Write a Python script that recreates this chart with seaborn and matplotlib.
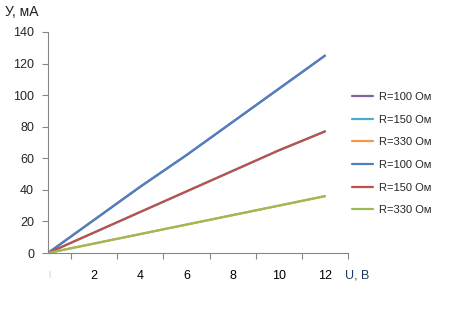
import matplotlib
matplotlib.use("Agg")
import matplotlib.pyplot as plt
import seaborn as sns
import pandas as pd

U = [0, 2, 4, 6, 8, 10, 12]
I_100 = [0, 21, 42, 62, 83, 104, 125]
I_150 = [0, 13, 26, 39, 52, 65, 77]
I_330 = [0, 6, 12, 18, 24, 30, 36]
labels = ["R=100 Ом", "R=150 Ом", "R=330 Ом", "R=100 Ом", "R=150 Ом", "R=330 Ом"]
colors = ["#8064A2", "#4BACC6", "#F79646", "#4F81BD", "#C0504D", "#9BBB59"]
series = [I_100, I_150, I_330, I_100, I_150, I_330]
x_labels = ["2", "4", "6", "8", "10", "12"]
y_ticks = [0, 20, 40, 60, 80, 100, 120, 140]

sns.set_style("white")
plt.rcParams["font.family"] = ["Liberation Sans", "DejaVu Sans"]

fig = plt.figure(figsize=(4.54, 3.12), dpi=100)
ax = fig.add_axes([48/454, 1-253/312, 300/454, 221/312])

for ys, lab, col in zip(series, labels, colors):
    df = pd.DataFrame({"U": U, "I": ys})
    sns.lineplot(data=df, x="U", y="I", ax=ax, color=col, linewidth=2.5, label=lab, legend=False)

ax.set_xlim(0, 13)
ax.set_ylim(0, 140)
ax.set_xticks([2, 4, 6, 8, 10, 12])
ax.set_xticklabels(x_labels)
ax.set_xticks([1, 3, 5, 7, 9, 11, 13], minor=True)
ax.set_yticks(y_ticks)
ax.tick_params(axis="x", which="major", length=0, pad=12, labelsize=9, colors="#000000")
ax.tick_params(axis="x", which="minor", length=4, width=0.8, color="#868686", direction="out", bottom=True)
ax.tick_params(axis="y", length=4, width=0.8, color="#868686", direction="out", left=True, pad=6, labelsize=9)
for s in ["top", "right"]:
    ax.spines[s].set_visible(False)
for s in ["left", "bottom"]:
    ax.spines[s].set_color("#868686")
    ax.spines[s].set_linewidth(0.8)
ax.set_xlabel("")
ax.set_ylabel("")

fig.text(5/454, 1-12/312, "У, мА", fontsize=10, color="#1F1F1F", va="center", ha="left")
fig.text(345/454, 1-275/312, "U, B", fontsize=9, color="#1F3864", va="center", ha="left")
fig.text(49/454, 1-274/312, "|", fontsize=6, color="#9DC3E6", va="center", ha="center")

handles, labs = ax.get_legend_handles_labels()
for h in handles:
    h.set_linewidth(1.6)
fig.legend(handles, labs, loc="upper left", bbox_to_anchor=(352/454, 1-92/312), frameon=False,
           fontsize=8, handlelength=1.9, handletextpad=0.55, labelspacing=1.14, borderaxespad=0, borderpad=0)

fig.savefig("out.png", dpi=100)
